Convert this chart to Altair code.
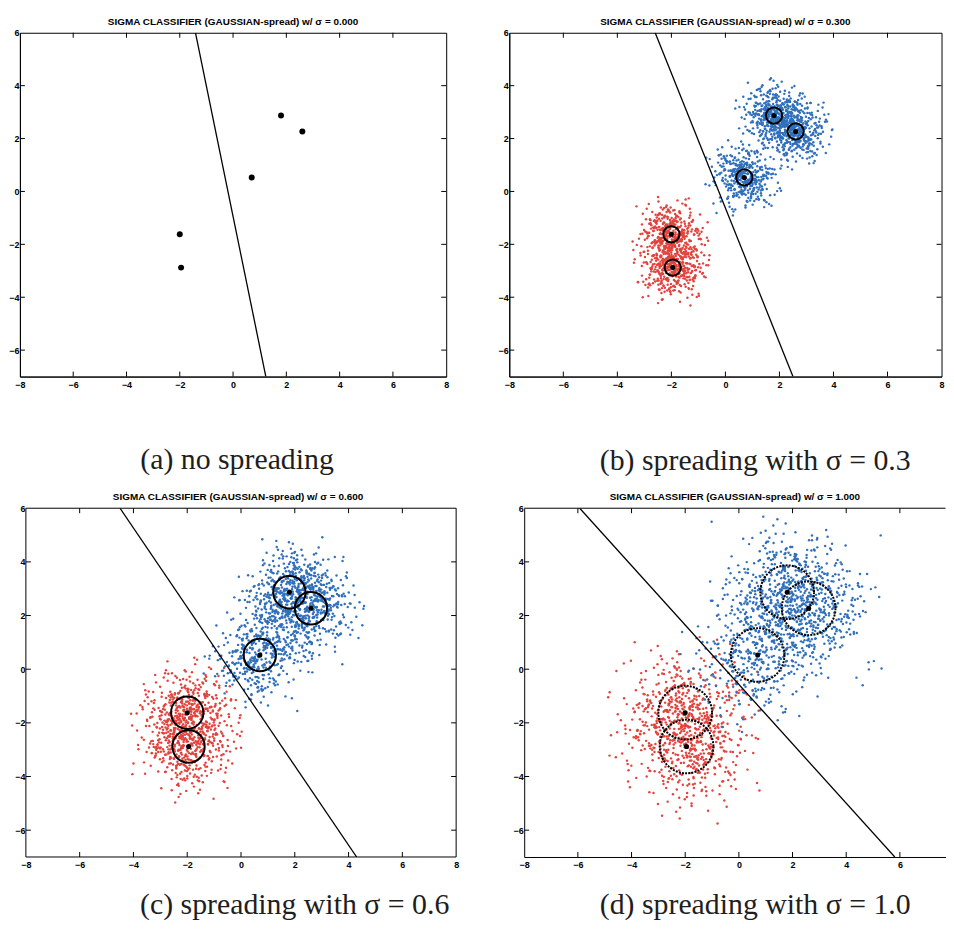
import altair as alt
import pandas as pd

# ---------------- data ----------------
# unit spread offsets of the sampled points (hand-read, reused per cluster)
DX = [0.12, -0.85, 1.34, -0.27, 0.58, -1.62, 0.03, 0.91, -0.44, 2.11,
      -1.08, 0.37, -0.19, 1.76, -0.66, 0.24, -2.35, 0.81, -0.05, 1.12,
      -0.93, 0.49, -1.41, 0.16, 0.72, -0.31, 1.98, -0.78, 0.07, -1.19,
      0.63, -0.52, 1.45, -0.11, -0.88, 0.29, 2.47, -1.55, 0.41, -0.23,
      0.95, -0.69, 0.18, -1.87, 1.07, -0.36, 0.54, -0.02, 1.63, -1.27,
      0.33, -0.97, 0.76, -0.14, 1.21, -0.47, -2.02, 0.68, 0.09, -0.81,
      1.39, -0.58, 0.22, -1.33, 0.87, -0.06, 0.45, -1.71, 1.16, -0.39,
      0.61, -0.25, 1.84, -0.74, 0.14, -1.03, 0.52, -0.17, 2.26, -0.9,
      0.27, -1.49, 0.83, -0.33, 1.02, -0.62, 0.05, -1.15, 1.53, -0.42,
      0.36, -2.61, 0.71, -0.08, 1.28, -0.55, 0.19, -0.99, 1.67, -0.29,
      -0.48, 0.93, -1.23, 0.31, -0.71, 1.49, -0.12, 0.64, -1.79, 0.26,
      1.88, -0.35, 0.47, -1.06, 0.11, -0.61, 1.31, -0.21, 0.79, -1.38,
      0.02, -0.84, 1.57, -0.46, 0.39, -1.95, 0.98, -0.15, 0.56, -0.76,
      1.19, -0.28, 2.03, -1.12, 0.34, -0.53, 0.85, -0.09, -1.58, 0.67,
      -0.38, 1.09, -0.94, 0.21, -1.26, 0.74, -0.03, 1.41, -0.67, 0.43,
      -2.18, 0.59, -0.13, 0.89, -1.44, 0.17, -0.57, 1.26, -0.83, 0.08,
      1.71, -0.41, 0.51, -1.01, 0.28, -1.66, 0.96, -0.2, 0.66, -0.73,
      2.39, -1.09, 0.13, -0.49, 1.14, -0.32, 0.78, -1.35, 0.04, -0.64,
      1.52, -0.24, 0.38, -0.89, 1.81, -1.18, 0.25, -0.07, 0.69, -1.52,
      0.46, -0.37, 1.04, -0.79, 0.15, -2.07, 0.84, -0.16, 1.36, -0.6]
DY = [-0.41, 0.77, 0.08, -1.29, 1.53, -0.16, 0.62, -0.88, 0.35, -0.03,
      1.18, -0.57, -1.74, 0.24, 0.91, -0.36, 0.47, -1.05, 2.08, -0.22,
      0.14, -0.69, 1.37, 0.53, -1.46, 0.29, -0.11, 0.86, -0.47, 1.64,
      -0.94, 0.19, -0.31, 1.01, 0.06, -1.83, 0.72, -0.26, 0.44, -0.63,
      1.27, -1.11, 0.37, 0.02, -0.79, 1.92, -0.18, 0.58, -1.37, 0.31,
      -0.52, 0.97, -2.21, 0.16, 0.68, -0.34, 1.45, -0.86, 0.23, -0.07,
      0.81, -1.58, 0.42, -0.19, 1.12, -0.45, 0.09, 2.33, -0.96, 0.55,
      -0.28, 0.67, -1.21, 0.38, -0.04, 1.58, -0.73, 0.26, -0.55, 0.92,
      -1.67, 0.13, 0.49, -0.39, 1.23, -0.82, 0.03, 0.74, -1.14, 0.34,
      1.71, -0.24, -0.61, 0.88, -0.12, 0.45, -1.93, 0.61, 0.18, -0.99,
      1.06, -0.33, 0.27, -1.51, 0.79, -0.08, 0.56, -0.74, 2.56, -0.43,
      0.11, -1.24, 0.65, -0.14, 1.33, -0.67, 0.41, -0.02, -1.02, 0.85,
      -0.49, 0.22, 1.49, -0.89, 0.32, -0.21, 0.73, -1.41, 0.07, 1.16,
      -0.59, 0.46, -0.27, 1.84, -1.17, 0.12, 0.59, -0.38, 0.95, -2.04,
      0.36, -0.13, 0.83, -0.71, 1.09, -0.46, 0.21, -1.32, 0.69, -0.05,
      1.41, -0.84, 0.28, -0.56, 0.04, 1.98, -1.08, 0.48, -0.25, 0.76,
      -1.62, 0.17, -0.42, 1.26, 0.39, -0.77, 0.99, -0.15, -1.27, 0.64,
      0.05, -0.53, 1.67, -0.91, 0.33, -0.09, 0.87, -1.49, 0.52, -0.3,
      -2.44, 0.71, -0.17, 1.04, -0.65, 0.25, 1.29, -0.37, 0.1, -1.12,
      0.57, -0.8, 0.43, -0.01, 1.76, -1.19, 0.2, -0.48, 0.93, -0.23]

CENTERS_X = [-2.0, -1.95, 0.7, 1.8, 2.6]
CENTERS_Y = [-1.62, -2.88, 0.53, 2.87, 2.27]
CENTER_CLASS = ["red", "red", "blue", "blue", "blue"]

SIGMAS = [0.0, 0.3, 0.6, 1.0]
SPREAD = [0.0, 0.55, 0.8, 1.1]           # visible spread of the sampled clouds
LINE_TOP_X = [-1.41, -2.6, -4.5, -5.93]   # separating line at y = 6
LINE_BOTTOM_X = [1.23, 2.5, 4.3, 5.81]    # separating line at y = -7
LINE_Y = [6, -7]

TITLES = ["SIGMA CLASSIFIER (GAUSSIAN-spread) w/ σ = 0.000",
          "SIGMA CLASSIFIER (GAUSSIAN-spread) w/ σ = 0.300",
          "SIGMA CLASSIFIER (GAUSSIAN-spread) w/ σ = 0.600",
          "SIGMA CLASSIFIER (GAUSSIAN-spread) w/ σ = 1.000"]
CAPTIONS = ["(a) no spreading", "(b) spreading with σ = 0.3",
            "(c) spreading with σ = 0.6", "(d) spreading with σ = 1.0"]
X_TICKS = [-8, -6, -4, -2, 0, 2, 4, 6, 8]
Y_TICKS = [-6, -4, -2, 0, 2, 4, 6]
X_FRAME_MIN, Y_MIN, Y_MAX = -8, -7, 6
X_MAX = [8, 8, 8, 7.70]

# ---------------- styles / layout ----------------
FRAME_W = [429, 435, 433, 424]     # plot-frame widths in px
FRAME_L = [0, 0, 6, 0]             # px of blank room left of the frame (panel c sits further right)
PANEL_H = [346, 346, 351, 351]
CAP_X = [218, 247, 276, 232]
CAP_Y = [93, 94, 57, 57]
ROW_GAP = [47.5, 53.5]
RED, BLUE = "#e2433d", "#2f6fbb"
SANS = "Liberation Sans"


def panel(p):
    FW, L, H = FRAME_W[p], FRAME_L[p], PANEL_H[p]
    W = FW + L
    xmax = X_MAX[p]
    px_per_unit = FW / (xmax - X_FRAME_MIN)
    xmin = X_FRAME_MIN - L / px_per_unit
    xs = alt.Scale(domain=[xmin, xmax], nice=False, zero=False)
    ys = alt.Scale(domain=[Y_MIN, Y_MAX], nice=False, zero=False)
    xaxis = alt.Axis(title=CAPTIONS[p], values=[t for t in X_TICKS if t <= xmax],
                     ticks=False, grid=False, labelFont=SANS, labelFontSize=9,
                     labelFontWeight="bold", labelColor="black", labelPadding=4,
                     labelFlush=False, labelOverlap=False,
                     domain=(L == 0), domainColor="black", domainWidth=1,
                     titleFont="Liberation Serif", titleFontSize=30,
                     titleFontWeight="normal", titleColor="#1e1e1e",
                     titleX=CAP_X[p], titleY=CAP_Y[p], titleAlign="center",
                     titleBaseline="alphabetic", titleAngle=0)
    yaxis = alt.Axis(title=None, values=Y_TICKS, ticks=False, grid=False,
                     labelFont=SANS, labelFontSize=9, labelFontWeight="bold",
                     labelColor="black", labelPadding=1, labelFlush=False,
                     labelOverlap=False, domain=(L == 0), domainColor="black",
                     domainWidth=1, offset=-L, minExtent=10, maxExtent=10)

    def X(f):
        return alt.X(f, type="quantitative", scale=xs, axis=xaxis)

    def Y(f):
        return alt.Y(f, type="quantitative", scale=ys, axis=yaxis)

    layers = []
    n = min(len(DX), len(DY))
    s = SPREAD[p]
    if s > 0:
        rows = []
        for k in range(len(CENTERS_X)):
            for i in range(n):
                rows.append({
                    "x": CENTERS_X[k] + s * DX[(i + 17 * k) % n],
                    "y": CENTERS_Y[k] + s * DY[(i + 71 * k + 29 * p) % n],
                    "cls": CENTER_CLASS[k],
                })
                rows.append({
                    "x": CENTERS_X[k] - s * DY[(i + 43 * k + 11 * p) % n],
                    "y": CENTERS_Y[k] + s * DX[(i + 113 + 37 * k) % n],
                    "cls": CENTER_CLASS[k],
                })
        df = pd.DataFrame(rows)
        df = df[df["x"] >= X_FRAME_MIN]
        cloud = alt.Chart(df).mark_circle(
            size=6, opacity=1, clip=True).encode(
            x=X("x"), y=Y("y"),
            color=alt.Color("cls:N", scale=alt.Scale(domain=["red", "blue"],
                                                     range=[RED, BLUE]),
                            legend=None))
        layers.append(cloud)

    line_df = pd.DataFrame({"x": [LINE_TOP_X[p], LINE_BOTTOM_X[p]], "y": LINE_Y})
    layers.append(alt.Chart(line_df).mark_line(color="black", strokeWidth=1.3,
                                               clip=True).encode(x=X("x"), y=Y("y")))

    cen_df = pd.DataFrame({"x": CENTERS_X, "y": CENTERS_Y})
    if SIGMAS[p] > 0:
        r_px = SIGMAS[p] * px_per_unit
        ring_kw = dict(shape="circle", filled=False, color="black",
                       strokeWidth=2, opacity=1, size=(2 * r_px) ** 2)
        if p == 3:
            ring_kw["strokeDash"] = [2, 1.2]
        layers.append(alt.Chart(cen_df).mark_point(**ring_kw).encode(
            x=X("x"), y=Y("y")))
    layers.append(alt.Chart(cen_df).mark_circle(
        color="black", opacity=1, size=36 if p == 0 else 26).encode(
        x=X("x"), y=Y("y")))

    # inward tick marks (MATLAB style)
    xt = pd.DataFrame({"t": [t for t in X_TICKS if X_FRAME_MIN < t < xmax]})
    yt = pd.DataFrame({"t": [t for t in Y_TICKS if Y_MIN < t < Y_MAX]})
    tick = 5
    layers.append(alt.Chart(xt).mark_rule(color="black", strokeWidth=1).encode(
        x=X("t"), y=alt.value(0), y2=alt.value(tick)))
    layers.append(alt.Chart(xt).mark_rule(color="black", strokeWidth=1).encode(
        x=X("t"), y=alt.value(H), y2=alt.value(H - tick)))
    layers.append(alt.Chart(yt).mark_rule(color="black", strokeWidth=1).encode(
        y=Y("t"), x=alt.value(L), x2=alt.value(L + tick)))
    one = pd.DataFrame({"v": [0]})
    if p != 3:
        layers.append(alt.Chart(yt).mark_rule(color="black", strokeWidth=1).encode(
            y=Y("t"), x=alt.value(W), x2=alt.value(W - tick)))
    else:
        layers.append(alt.Chart(one).mark_rule(color="black", strokeWidth=1).encode(
            x=alt.value(0), x2=alt.value(W), y=alt.value(0)))
    if L > 0:
        layers.append(alt.Chart(one).mark_rect(
            filled=False, stroke="black", strokeWidth=1).encode(
            x=alt.value(L), x2=alt.value(W), y=alt.value(0), y2=alt.value(H)))

    props = dict(width=W, height=H,
                 title=alt.TitleParams(text=TITLES[p], font=SANS, fontSize=10,
                                       fontWeight="bold", color="black",
                                       offset=2, anchor="middle", frame="group"))
    if p == 3 or L > 0:
        props["view"] = alt.ViewBackground(stroke=None)
    return alt.layer(*layers).properties(**props)


row1 = alt.hconcat(panel(0), panel(1), spacing=ROW_GAP[0])
row2 = alt.hconcat(panel(2), panel(3), spacing=ROW_GAP[1])
chart = alt.vconcat(row1, row2, spacing=15.5).properties(
    padding={"left": 0, "top": 5, "right": 0, "bottom": 0}
).configure(font=SANS).configure_view(stroke="black", strokeWidth=1)

chart.save("out.html", embed_options={"renderer": "svg", "actions": False})
